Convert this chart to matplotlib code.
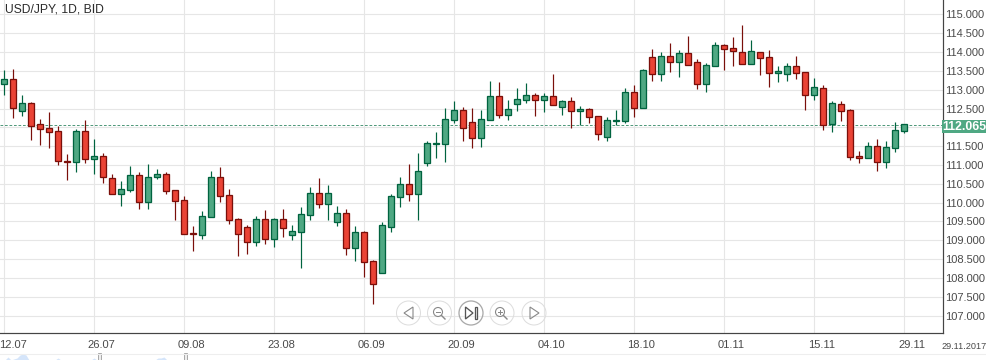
import numpy as np
import matplotlib
matplotlib.use("Agg")
import matplotlib.pyplot as plt
from matplotlib.patches import Circle, Polygon, Rectangle
from matplotlib.transforms import ScaledTranslation

plt.rcParams['font.family'] = ['Liberation Sans', 'DejaVu Sans']

# Daily USD/JPY candles
opens = [113.14, 113.28, 112.43, 112.64, 112.08, 111.98, 111.90, 111.10, 111.07, 111.90,
         111.15, 111.23, 110.65, 110.22, 110.33, 110.73, 110.01, 110.67, 110.75, 110.33,
         110.06, 109.18, 109.13, 109.61, 110.67, 110.19, 109.56, 109.34, 108.95, 109.56,
         109.03, 109.56, 109.13, 109.21, 109.66, 110.25, 109.96, 109.48, 109.72, 108.79,
         109.21, 108.44, 108.12, 109.34, 110.14, 110.49, 110.22, 111.05, 111.55, 111.55,
         112.19, 112.45, 112.13, 111.71, 112.19, 112.83, 112.32, 112.61, 112.72, 112.85,
         112.72, 112.83, 112.53, 112.69, 112.43, 112.48, 112.29, 111.74, 112.16, 112.16,
         112.93, 112.51, 113.86, 113.41, 113.89, 113.73, 113.97, 113.73, 113.14, 113.62,
         114.18, 114.10, 114.00, 113.68, 114.00, 113.86, 113.44, 113.41, 113.62, 113.46,
         112.85, 113.04, 112.08, 112.61, 112.45, 111.23, 111.18, 111.50, 111.07, 111.44,
         111.90]
highs = [113.52, 113.55, 112.86, 112.67, 112.22, 112.41, 112.04, 111.29, 111.96, 112.20,
         111.69, 111.31, 110.75, 110.57, 110.97, 110.81, 111.03, 110.89, 110.81, 110.33,
         110.18, 109.38, 109.77, 110.84, 110.95, 110.36, 109.59, 109.41, 109.64, 109.80,
         109.58, 109.83, 109.40, 109.88, 110.41, 110.65, 110.46, 109.90, 109.82, 109.37,
         109.24, 108.47, 109.48, 110.22, 110.68, 111.03, 111.32, 111.64, 111.88, 112.51,
         112.70, 112.53, 112.51, 112.46, 113.23, 113.21, 112.73, 113.04, 113.18, 112.91,
         112.91, 113.42, 112.73, 112.81, 112.57, 112.51, 112.29, 112.28, 112.46, 113.04,
         113.13, 113.54, 114.08, 114.00, 114.24, 114.06, 114.43, 113.81, 113.70, 114.27,
         114.22, 114.40, 114.72, 114.32, 114.00, 114.06, 113.63, 113.71, 113.90, 113.46,
         113.31, 113.13, 112.70, 112.70, 112.48, 111.37, 111.61, 111.69, 111.64, 112.14,
         112.08]
lows = [112.86, 112.26, 112.30, 111.66, 111.53, 111.45, 111.00, 110.60, 110.81, 111.05,
        110.76, 110.52, 110.22, 109.91, 110.28, 109.83, 109.83, 110.63, 110.23, 109.54,
        109.16, 108.71, 109.03, 109.61, 110.02, 109.43, 108.58, 108.63, 108.85, 108.90,
        108.82, 109.09, 109.01, 108.26, 109.54, 109.86, 109.54, 109.38, 108.61, 108.45,
        108.02, 107.31, 108.12, 109.22, 109.88, 110.04, 109.54, 110.97, 111.19, 111.08,
        112.12, 111.64, 111.45, 111.48, 112.19, 112.25, 112.20, 112.44, 112.65, 112.30,
        112.41, 112.59, 112.33, 111.98, 112.05, 112.12, 111.66, 111.64, 112.05, 112.12,
        112.28, 112.51, 113.23, 113.23, 113.47, 113.34, 113.65, 113.02, 112.94, 113.62,
        113.52, 113.63, 113.68, 113.68, 113.39, 113.07, 113.21, 113.23, 113.29, 112.46,
        112.73, 111.93, 111.88, 112.17, 111.13, 111.05, 111.18, 110.84, 110.92, 111.35,
        111.85]
closes = [113.28, 112.51, 112.64, 112.03, 111.95, 111.87, 111.10, 111.07, 111.90, 111.15,
          111.23, 110.67, 110.22, 110.35, 110.73, 110.01, 110.67, 110.75, 110.30, 110.04,
          109.16, 109.16, 109.64, 110.67, 110.17, 109.53, 109.16, 108.95, 109.56, 109.03,
          109.56, 109.32, 109.24, 109.69, 110.25, 109.96, 110.25, 109.72, 108.79, 109.21,
          108.41, 107.83, 109.40, 110.17, 110.49, 110.22, 110.83, 111.58, 111.58, 112.21,
          112.45, 111.97, 111.71, 112.21, 112.83, 112.32, 112.48, 112.75, 112.85, 112.72,
          112.83, 112.59, 112.69, 112.43, 112.48, 112.27, 111.82, 112.19, 112.19, 112.93,
          112.51, 113.52, 113.41, 113.89, 113.73, 113.97, 113.65, 113.14, 113.65, 114.18,
          114.07, 114.02, 113.68, 114.02, 113.84, 113.44, 113.49, 113.62, 113.44, 112.85,
          113.07, 112.05, 112.64, 112.43, 111.20, 111.18, 111.50, 111.07, 111.47, 111.92,
          112.08]

date_labels = ['12.07', '26.07', '09.08', '23.08', '06.09', '20.09', '04.10',
               '18.10', '01.11', '15.11', '29.11']
price_ticks = [107.0, 107.5, 108.0, 108.5, 109.0, 109.5, 110.0, 110.5, 111.0,
               111.5, 112.0, 112.5, 113.0, 113.5, 114.0, 114.5, 115.0]
last_price = 112.065

# the bit of the navigator that shows at the bottom edge
nav_x = [5, 8, 11, 17, 20, 23, 26, 29, 55, 58, 61, 91, 94, 97, 155, 158, 161, 164, 167]
nav_y = [360, 357, 360, 358, 355, 354, 355, 360, 360, 358, 360, 360, 358, 360, 360, 358, 358, 357, 360]

GREEN = '#4fa883'
GREEN_EDGE = '#00633f'
RED = '#ea4335'
RED_EDGE = '#7a0f0a'
GRID = '#e6e6e6'
px = 0.72  # one pixel in points at dpi 100

fig = plt.figure(figsize=(9.87, 3.6), dpi=100)
ax = fig.add_axes([0, 27 / 360, 943 / 987, 333 / 360])

x = np.arange(len(opens))
opens = np.array(opens)
closes = np.array(closes)
highs = np.array(highs)
lows = np.array(lows)
up = closes >= opens
edge_cols = np.where(up, GREEN_EDGE, RED_EDGE)
body_cols = np.where(up, GREEN, RED)

ax.vlines(x, lows, highs, colors=edge_cols, linewidth=1.2 * px, zorder=3)
ax.bar(x, np.abs(closes - opens), bottom=np.minimum(opens, closes), width=5.6 / 9,
       color=body_cols, edgecolor=edge_cols, linewidth=1.3 * px, zorder=4)

ax.axhline(last_price, color='#3f8f6e', linewidth=0.9 * px, dashes=(3, 2), zorder=2)

ax.set_xlim(-0.44, 104.34)
ax.set_ylim(106.535, 115.385)
ax.set_xticks(x[::10])
ax.set_xticklabels(date_labels)
ax.set_yticks(price_ticks)
# the price box covers the 112.000 label
ax.set_yticklabels(['' if p == 112.0 else '%.3f' % p for p in price_ticks])
ax.yaxis.tick_right()
ax.grid(True, color=GRID, linewidth=1.1 * px, zorder=0)
ax.set_axisbelow(True)
ax.tick_params(axis='both', length=0, labelsize=8, labelcolor='#4a4a4a')
ax.tick_params(axis='x', pad=5)
ax.tick_params(axis='y', pad=1.2)
for s in ['top', 'left']:
    ax.spines[s].set_visible(False)
for s in ['right', 'bottom']:
    ax.spines[s].set_color('#444444')
    ax.spines[s].set_linewidth(1.2 * px)

# date labels sit a little right of their gridline, the first one a bit more so it fits
for i, lab in enumerate(ax.get_xticklabels()):
    shift = 9.5 if i == 0 else 7.5
    lab.set_transform(lab.get_transform() + ScaledTranslation(shift / 100, 0, fig.dpi_scale_trans))

# overlay in pixel coordinates for the chart furniture
ov = fig.add_axes([0, 0, 1, 1], facecolor='none')
ov.set_xlim(0, 987)
ov.set_ylim(360, 0)
ov.axis('off')

ov.text(5, 9, 'USD/JPY, 1D, BID', fontsize=8.7, color='#2b2b2b', va='center', ha='left')
ov.add_patch(Rectangle((942, 120), 45, 13, facecolor=GREEN, edgecolor='none', zorder=5))
ov.text(964.5, 126.5, '112.065', color='white', fontsize=8.8, fontweight='bold',
        ha='center', va='center', zorder=6)
ov.text(964, 346.5, '29.11.2017', color='#4a4a4a', fontsize=6.6, ha='center', va='center')

# navigator strip, clipped by the bottom edge
ov.plot([0, 987], [353.5, 353.5], color='#eeeeee', linewidth=1.1 * px)
ov.fill_between(nav_x, nav_y, 360, color='#d5e5fa', linewidth=0)
for hx in [99, 185]:
    ov.add_patch(Rectangle((hx - 1, 353), 2.5, 8, facecolor='#eeeeee', edgecolor='#aaaaaa', linewidth=1 * px))

# navigation buttons
btn_y = 313
btn_col = '#888888'
for bx, ec, fc, lw in [(408.5, '#dddddd', 'none', 1), (439.5, '#dddddd', 'none', 1),
                       (471, '#aaaaaa', '#ffffff66', 1.3), (502, '#dddddd', 'none', 1),
                       (534, '#dddddd', 'none', 1)]:
    ov.add_patch(Circle((bx, btn_y), 12, facecolor=fc, edgecolor=ec, linewidth=lw * px))

ov.add_patch(Polygon([(413, 307), (413, 319), (404, 313)], fill=False, edgecolor=btn_col, linewidth=1.1 * px))
ov.add_patch(Polygon([(530, 307), (530, 319), (539, 313)], fill=False, edgecolor=btn_col, linewidth=1.1 * px))
# zoom out / zoom in glasses
for cx, plus in [(439, False), (501, True)]:
    ov.add_patch(Circle((cx - 1, 312), 4.5, fill=False, edgecolor=btn_col, linewidth=1.1 * px))
    ov.plot([cx + 2.5, cx + 6], [315.5, 319], color=btn_col, linewidth=1.4 * px)
    ov.plot([cx - 3, cx + 1], [312, 312], color=btn_col, linewidth=1 * px)
    if plus:
        ov.plot([cx - 1, cx - 1], [310, 314], color=btn_col, linewidth=1 * px)
# go to latest
ov.add_patch(Polygon([(465.5, 307), (465.5, 319), (473, 313)], fill=False, edgecolor='#555555', linewidth=1.3 * px))
ov.add_patch(Rectangle((474.5, 307), 2.5, 12, fill=False, edgecolor='#555555', linewidth=1.3 * px))

fig.savefig('out.png', dpi=100, facecolor='white')
